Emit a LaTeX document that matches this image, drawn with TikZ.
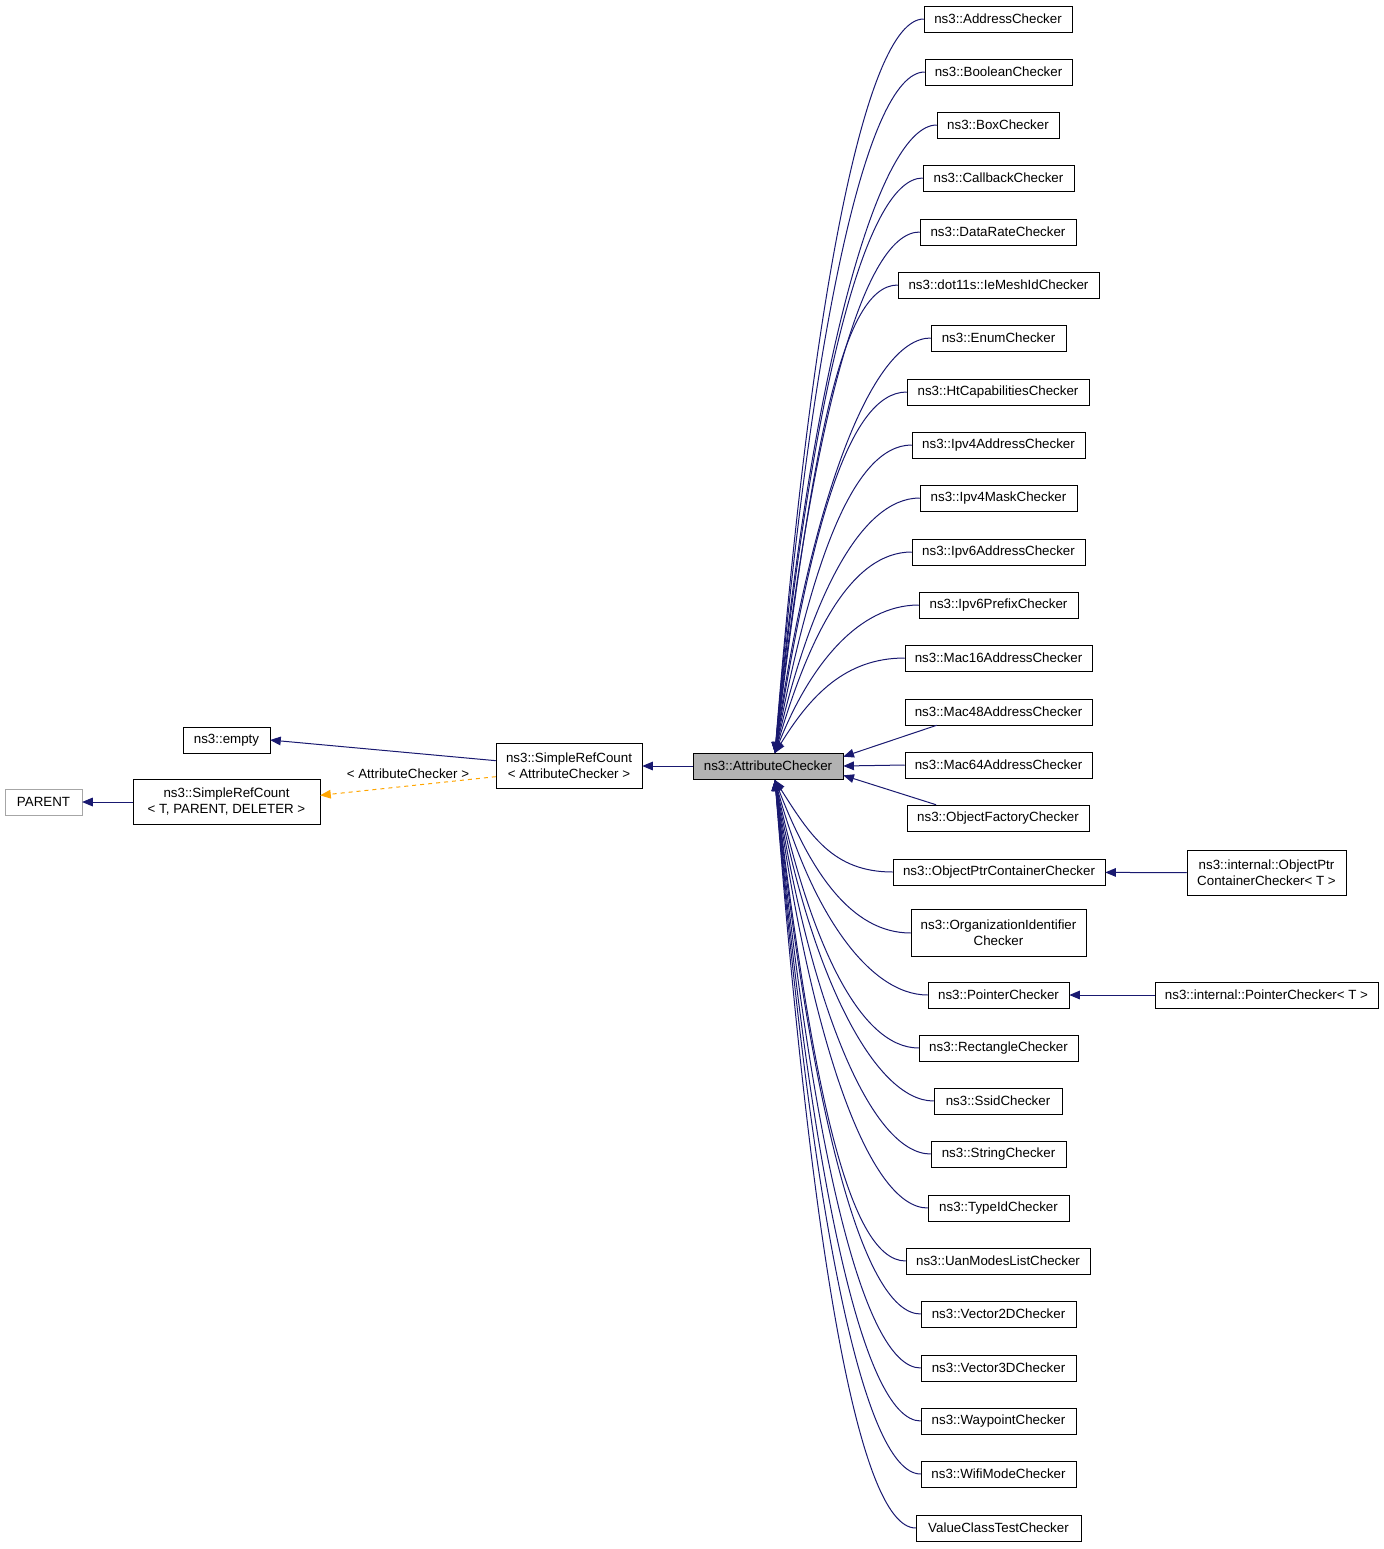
\documentclass[tikz,border=0pt]{standalone}
\usepackage{fontspec}
\setmainfont{Liberation Sans}
\usetikzlibrary{arrows.meta}
\definecolor{navy}{HTML}{191970}
\definecolor{gold}{HTML}{FFA500}
\begin{document}
\begin{tikzpicture}[x=0.75pt,y=-0.75pt,
  box/.style={draw, inner sep=0pt, minimum height=19.5pt, font=\fontsize{10}{12}\selectfont, align=center},
  arr/.style={navy, line width=0.75pt, -{Triangle[length=8pt,width=6.5pt]}},
  darr/.style={gold, line width=0.75pt, dashed, -{Triangle[length=8pt,width=6.5pt]}}]
\useasboundingbox (0,0) rectangle (1384,1549);
% central
\node[box, fill=black!30, minimum width=112.5pt] (ac) at (768,766) {ns3::AttributeChecker};
\node[box, minimum width=109.5pt, minimum height=34pt] (src) at (569,766) {ns3::SimpleRefCount\\\textless{} AttributeChecker \textgreater};
\node[box, minimum width=65pt] (empty) at (226.5,740) {ns3::empty};
\node[box, minimum width=140pt, minimum height=34pt] (srt) at (226.5,802) {ns3::SimpleRefCount\\\textless{} T, PARENT, DELETER \textgreater};
\node[box, draw=black!35, minimum width=57.5pt] (parent) at (43.5,802) {PARENT};
\draw[arr] (ac) -- (src);
\draw[arr] ([yshift=4pt]src.west) -- (empty.east);
\draw[darr] ([yshift=-8pt]src.west) -- node[above, pos=0.5, black, font=\fontsize{10}{12}\selectfont, yshift=2pt] {\textless{} AttributeChecker \textgreater} ([yshift=5pt]srt.east);
\draw[arr] (srt) -- (parent);
% upper children
\foreach \y/\l/\r/\t [count=\i] in {
19/924/1072/ns3::AddressChecker,
72/925/1072/ns3::BooleanChecker,
125/937/1059/ns3::BoxChecker,
178/923/1074/ns3::CallbackChecker,
232/920/1076/ns3::DataRateChecker,
285/898/1099/ns3::dot11s::IeMeshIdChecker,
338/931/1066/ns3::EnumChecker,
392/907/1089/ns3::HtCapabilitiesChecker,
445/912/1085/ns3::Ipv4AddressChecker,
498/920/1077/ns3::Ipv4MaskChecker,
552/912/1085/ns3::Ipv6AddressChecker,
605/919/1078/ns3::Ipv6PrefixChecker,
658/905/1092/ns3::Mac16AddressChecker}{
  \pgfmathsetmacro{\cx}{(\l+\r)/2}
  \pgfmathsetmacro{\w}{(\r-\l)*0.75}
  \pgfmathsetmacro{\cy}{753-0.6*(753-\y)}
  \pgfmathsetmacro{\ox}{\l-60}
  \node[box, minimum width=\w pt] (u\i) at (\cx,\y) {\t};
  \draw[arr] (u\i.west) .. controls (\ox,\y) and (810,\cy) .. (775,753);
}
% straight ones
\node[box, minimum width=140.25pt] (m48) at (998.5,712) {ns3::Mac48AddressChecker};
\node[box, minimum width=140.25pt] (m64) at (998.5,765) {ns3::Mac64AddressChecker};
\node[box, minimum width=136.5pt] (ofc) at (998,818) {ns3::ObjectFactoryChecker};
\draw[arr] ([xshift=24pt]m48.south west) -- ([yshift=7pt]ac.east);
\draw[arr] (m64.west) -- (ac.east);
\draw[arr] ([xshift=22pt]ofc.north west) -- ([yshift=-7pt]ac.east);
% lower children
\foreach \y/\l/\r/\t [count=\i] in {
872/893/1105/ns3::ObjectPtrContainerChecker,
995/928/1069/ns3::PointerChecker,
1048/919/1078/ns3::RectangleChecker,
1101/934/1062/ns3::SsidChecker,
1154/931/1066/ns3::StringChecker,
1208/928/1069/ns3::TypeIdChecker,
1261/906/1090/ns3::UanModesListChecker,
1314/921/1076/ns3::Vector2DChecker,
1368/921/1076/ns3::Vector3DChecker,
1421/921/1076/ns3::WaypointChecker,
1474/921/1076/ns3::WifiModeChecker,
1528/916/1081/ValueClassTestChecker}{
  \pgfmathsetmacro{\cx}{(\l+\r)/2}
  \pgfmathsetmacro{\w}{(\r-\l)*0.75}
  \pgfmathsetmacro{\cy}{780+0.6*(\y-780)}
  \pgfmathsetmacro{\ox}{\l-60}
  \node[box, minimum width=\w pt] (d\i) at (\cx,\y) {\t};
  \draw[arr] (d\i.west) .. controls (\ox,\y) and (810,\cy) .. (775,780);
}
\node[box, minimum width=131.25pt, minimum height=35pt] (oid) at (998.5,933) {ns3::OrganizationIdentifier\\Checker};
\draw[arr] (oid.west) .. controls (851,933) and (810,871) .. (775,780);
% internal
\node[box, minimum width=119.25pt, minimum height=34pt] (iopc) at (1266.5,873) {ns3::internal::ObjectPtr\\ContainerChecker\textless{} T \textgreater};
\node[box, minimum width=167.25pt] (ipc) at (1266.5,995) {ns3::internal::PointerChecker\textless{} T \textgreater};
\draw[arr] (iopc) -- (d1);
\draw[arr] (ipc) -- (d2);
\end{tikzpicture}
\end{document}
